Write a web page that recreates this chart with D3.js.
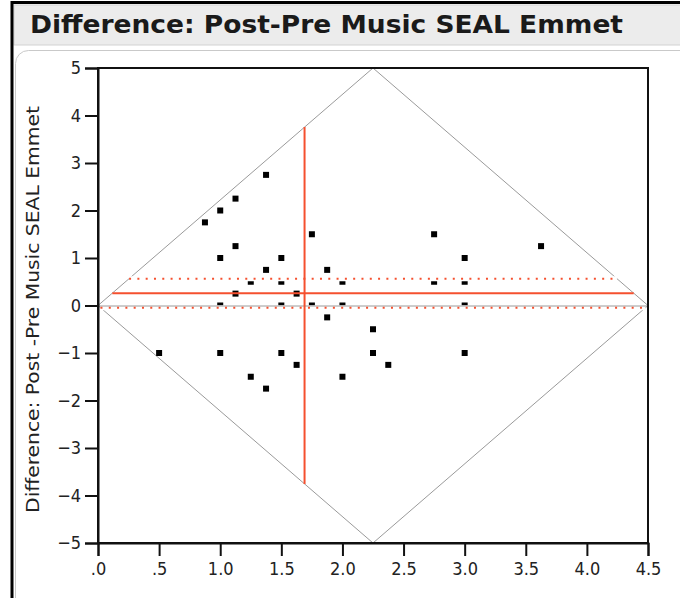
<!DOCTYPE html>
<html>
<head>
<meta charset="utf-8">
<script src="https://cdn.jsdelivr.net/npm/d3@7"></script>
<style>
	body { margin: 0; background: #fff; }
	svg { display: block; }
	text { font-family: "DejaVu Sans Condensed", "DejaVu Sans", sans-serif; fill: #222; }
</style>
</head>
<body>
<script>
// Matched pairs: x = mean of (post, pre), y = post - pre
var pairMean = [1.375, 1.125, 1.0, 0.875, 1.75, 1.125, 1.0, 1.5, 1.375, 1.875,
	1.25, 1.5, 2.0, 1.125, 1.625, 1.0, 1.5, 1.75, 2.0, 1.875,
	2.25, 0.5, 1.0, 1.5, 2.25, 1.625, 2.375, 1.25, 2.0, 1.375,
	2.75, 3.0, 3.625, 2.75, 3.0, 3.0, 3.0];
var pairDiff = [2.75, 2.25, 2.0, 1.75, 1.5, 1.25, 1.0, 1.0, 0.75, 0.75,
	0.5, 0.5, 0.5, 0.25, 0.25, 0, 0, 0, 0, -0.25,
	-0.5, -1, -1, -1, -1, -1.25, -1.25, -1.5, -1.5, -1.75,
	1.5, 1.0, 1.25, 0.5, 0.5, 0, -1];

// summary lines
var meanDiff = 0.26;
var ciDiff = [-0.045, 0.565];
var meanOfMeans = 1.69;

var xTicks = [0, 0.5, 1, 1.5, 2, 2.5, 3, 3.5, 4, 4.5];
var yTicks = [-5, -4, -3, -2, -1, 0, 1, 2, 3, 4, 5];
var xDomain = [0, 4.5];
var yDomain = [-5, 5];

var title = 'Difference: Post-Pre Music SEAL Emmet';
var yTitle = 'Difference: Post -Pre Music SEAL Emmet';

var width = 680, height = 598;
var red = '#f5502f';

var svg = d3.select('body').append('svg')
	.attr('width', width).attr('height', height);

// window chrome
svg.append('rect')
	.attr('x', 14).attr('y', 5).attr('width', 670).attr('height', 40)
	.attr('fill', '#ececec').attr('stroke', '#d2d2d2');
svg.append('rect')
	.attr('x', 15.5).attr('y', 50.5).attr('width', 680).attr('height', 580)
	.attr('rx', 13).attr('fill', '#fff').attr('stroke', '#c9c9c9');
svg.append('line')
	.attr('x1', 12).attr('x2', width).attr('y1', 2.5).attr('y2', 2.5)
	.attr('stroke', '#000').attr('stroke-width', 3);
svg.append('line')
	.attr('x1', 12).attr('x2', 12).attr('y1', 1).attr('y2', height)
	.attr('stroke', '#000').attr('stroke-width', 3);

svg.append('text')
	.attr('x', 30).attr('y', 33)
	.attr('textLength', 593).attr('lengthAdjust', 'spacingAndGlyphs')
	.style('font-size', '24px').style('font-weight', 'bold').style('fill', '#1a1a1a')
	.text(title);

// plot area
var margin = { left: 98, right: 648, top: 68, bottom: 543 };
var x = d3.scaleLinear().domain(xDomain).range([margin.left, margin.right]);
var y = d3.scaleLinear().domain(yDomain).range([margin.bottom, margin.top]);

var g = svg.append('g');

// diamond of the possible (mean, diff) region
var midX = (xDomain[0] + xDomain[1]) / 2;
var diamond = [[xDomain[0], 0], [midX, yDomain[1]], [xDomain[1], 0], [midX, yDomain[0]]];
g.append('path')
	.attr('d', d3.line().x(function(d) { return x(d[0]); }).y(function(d) { return y(d[1]); })(diamond) + 'Z')
	.attr('fill', 'none').attr('stroke', '#9a9a9a').attr('stroke-width', 1);

// half-width of diamond at a given difference
function edge(d) {
	return Math.abs(d) * (midX - xDomain[0]) / yDomain[1];
}

g.selectAll('rect.pt')
	.data(pairMean.map(function(m, i) { return [m, pairDiff[i]]; }))
	.enter().append('rect')
	.attr('class', 'pt')
	.attr('x', function(d) { return x(d[0]) - 3; })
	.attr('y', function(d) { return y(d[1]) - 3; })
	.attr('width', 6).attr('height', 6)
	.attr('fill', '#000');

// confidence lines: white backing with red dots
ciDiff.forEach(function(c) {
	var x0 = x(xDomain[0] + edge(c)), x1 = x(xDomain[1] - edge(c));
	g.append('line')
		.attr('x1', x0).attr('x2', x1).attr('y1', y(c)).attr('y2', y(c))
		.attr('stroke', '#fff').attr('stroke-width', 5);
});

g.append('line')
	.attr('x1', x(xDomain[0])).attr('x2', x(xDomain[1]))
	.attr('y1', y(0) + 0.5).attr('y2', y(0) + 0.5)
	.attr('stroke', '#9a9a9a').attr('stroke-width', 1);

ciDiff.forEach(function(c) {
	var x0 = x(xDomain[0] + edge(c)), x1 = x(xDomain[1] - edge(c));
	g.append('line')
		.attr('x1', x0).attr('x2', x1).attr('y1', y(c)).attr('y2', y(c))
		.attr('stroke', red).attr('stroke-width', 2)
		.attr('stroke-dasharray', '2 6.3');
});

g.append('line')
	.attr('x1', x(xDomain[0] + edge(meanDiff))).attr('x2', x(xDomain[1] - edge(meanDiff)))
	.attr('y1', y(meanDiff)).attr('y2', y(meanDiff))
	.attr('stroke', red).attr('stroke-width', 2);

var vReach = (meanOfMeans - xDomain[0]) * yDomain[1] / (midX - xDomain[0]);
g.append('line')
	.attr('x1', x(meanOfMeans)).attr('x2', x(meanOfMeans))
	.attr('y1', y(vReach)).attr('y2', y(-vReach))
	.attr('stroke', red).attr('stroke-width', 2);

// frame
svg.append('rect')
	.attr('x', margin.left).attr('y', margin.top)
	.attr('width', margin.right - margin.left).attr('height', margin.bottom - margin.top)
	.attr('fill', 'none').attr('stroke', '#111').attr('stroke-width', 2);

var fmt = function(d) { return d3.format('.1f')(d).replace(/^0\./, '.'); };

var xAxis = svg.append('g')
	.attr('transform', 'translate(0,' + margin.bottom + ')')
	.call(d3.axisBottom(x).tickValues(xTicks).tickFormat(fmt).tickSizeOuter(0).tickSize(13).tickPadding(6));
var yAxis = svg.append('g')
	.attr('transform', 'translate(' + margin.left + ',0)')
	.call(d3.axisLeft(y).tickValues(yTicks).tickFormat(d3.format('d')).tickSizeOuter(0).tickSize(13).tickPadding(4));

[xAxis, yAxis].forEach(function(a) {
	a.select('.domain').attr('stroke', '#111').attr('stroke-width', 2);
	a.selectAll('.tick line').attr('stroke', '#111').attr('stroke-width', 2);
	a.selectAll('.tick text')
		.style('font-family', '"DejaVu Sans Condensed", "DejaVu Sans", sans-serif')
		.style('font-size', '18px').attr('fill', '#333');
});
yAxis.selectAll('.tick text').text(function(d) { return d < 0 ? '\u2212' + Math.abs(d) : d; });

svg.append('text')
	.attr('transform', 'translate(39,' + ((margin.top + margin.bottom) / 2 + 4) + ') rotate(-90)')
	.attr('text-anchor', 'middle')
	.attr('textLength', 407).attr('lengthAdjust', 'spacingAndGlyphs')
	.style('font-size', '17px').style('fill', '#222')
	.text(yTitle);
</script>
</body>
</html>
